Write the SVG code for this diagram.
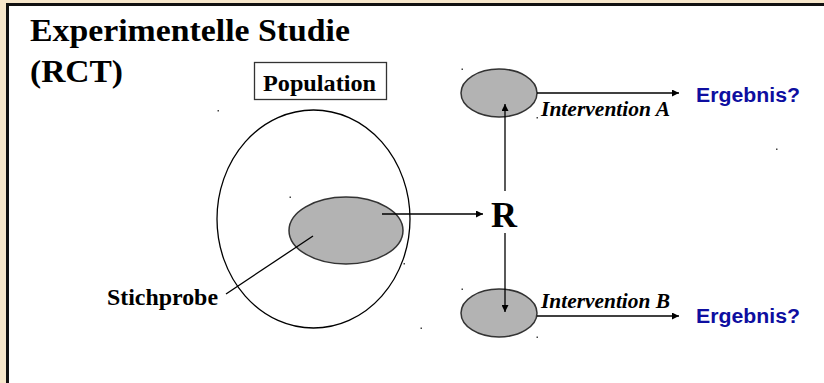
<svg xmlns="http://www.w3.org/2000/svg" width="824" height="383" viewBox="0 0 824 383">
  <defs>
    <marker id="arrow" viewBox="0 0 10 10" refX="10" refY="5" markerWidth="8" markerHeight="7" markerUnits="userSpaceOnUse" orient="auto">
      <path d="M0,0 L10,5 L0,10 z" fill="#000"/>
    </marker>
    <style>
      .serif { font-family: "Liberation Serif", "Times New Roman", serif; font-weight: bold; fill: #000; }
      .ital { font-style: italic; }
      .sans { font-family: "Liberation Sans", Arial, sans-serif; font-weight: bold; fill: #0e0ea0; }
      .blob { fill: #b3b3b3; stroke: #333; stroke-width: 1.5; }
      .edge { stroke: #000; stroke-width: 1.3; fill: none; }
      .speck { fill: #444; }
    </style>
  </defs>

  <!-- slide frame -->
  <rect x="0" y="0" width="824" height="383" fill="#f7e7cb"/>
  <rect x="7.5" y="4.5" width="830" height="400" fill="#fff" stroke="#111" stroke-width="3"/>

  <!-- title -->
  <g id="title">
    <text class="serif" x="30" y="41" font-size="31" textLength="320" lengthAdjust="spacingAndGlyphs">Experimentelle Studie</text>
    <text class="serif" x="30" y="82" font-size="31" textLength="93" lengthAdjust="spacingAndGlyphs">(RCT)</text>
  </g>

  <!-- population -->
  <g id="population">
    <rect x="254.5" y="62.5" width="132" height="37" fill="#fff" stroke="#333" stroke-width="1.3"/>
    <text class="serif" x="263" y="90.5" font-size="24" textLength="113" lengthAdjust="spacingAndGlyphs">Population</text>
    <ellipse cx="313.5" cy="219" rx="96.5" ry="109" fill="none" stroke="#000" stroke-width="1.3"/>
  </g>

  <!-- sample -->
  <g id="stichprobe">
    <ellipse cx="346" cy="230.5" rx="57" ry="33.5" class="blob"/>
    <text class="serif" x="107" y="304.5" font-size="24" textLength="111" lengthAdjust="spacingAndGlyphs">Stichprobe</text>
  </g>

  <!-- randomisation -->
  <g id="randomisierung">
    <text class="serif" x="491" y="226.5" font-size="36" textLength="26" lengthAdjust="spacingAndGlyphs">R</text>
  </g>

  <!-- arm A -->
  <g id="gruppe-a">
    <ellipse cx="499" cy="93" rx="38" ry="24" class="blob"/>
    <text class="serif ital" x="541" y="116" font-size="20" textLength="129" lengthAdjust="spacingAndGlyphs">Intervention A</text>
    <text class="sans" x="696" y="101.5" font-size="20" textLength="104" lengthAdjust="spacingAndGlyphs">Ergebnis?</text>
  </g>

  <!-- arm B -->
  <g id="gruppe-b">
    <ellipse cx="499" cy="313" rx="38" ry="24" class="blob"/>
    <text class="serif ital" x="541" y="308" font-size="20" textLength="129" lengthAdjust="spacingAndGlyphs">Intervention B</text>
    <text class="sans" x="696" y="322.5" font-size="20" textLength="104" lengthAdjust="spacingAndGlyphs">Ergebnis?</text>
  </g>

  <!-- connectors -->
  <g id="connectors">
    <line class="edge" x1="226" y1="294" x2="313" y2="236"/>
    <line class="edge" x1="382" y1="214" x2="483" y2="214" marker-end="url(#arrow)"/>
    <line class="edge" x1="505" y1="191" x2="505" y2="104" marker-end="url(#arrow)"/>
    <line class="edge" x1="505" y1="233" x2="505" y2="312" marker-end="url(#arrow)"/>
    <line class="edge" x1="537" y1="93" x2="679" y2="93" marker-end="url(#arrow)"/>
    <line class="edge" x1="537" y1="316" x2="679" y2="316" marker-end="url(#arrow)"/>
  </g>

  <!-- small handle marks -->
  <g id="specks">
    <rect class="speck" x="217.5" y="110" width="1.5" height="1.5"/>
    <rect class="speck" x="289.5" y="196.5" width="1.5" height="1.5"/>
    <rect class="speck" x="403.5" y="263" width="1.5" height="1.5"/>
    <rect class="speck" x="461.5" y="68.5" width="1.5" height="1.5"/>
    <rect class="speck" x="536.5" y="117" width="1.5" height="1.5"/>
    <rect class="speck" x="776" y="148.5" width="1.5" height="1.5"/>
    <rect class="speck" x="461.5" y="288.5" width="1.5" height="1.5"/>
    <rect class="speck" x="420.5" y="327.5" width="1.5" height="1.5"/>
    <rect class="speck" x="536.5" y="336.5" width="1.5" height="1.5"/>
  </g>
</svg>
